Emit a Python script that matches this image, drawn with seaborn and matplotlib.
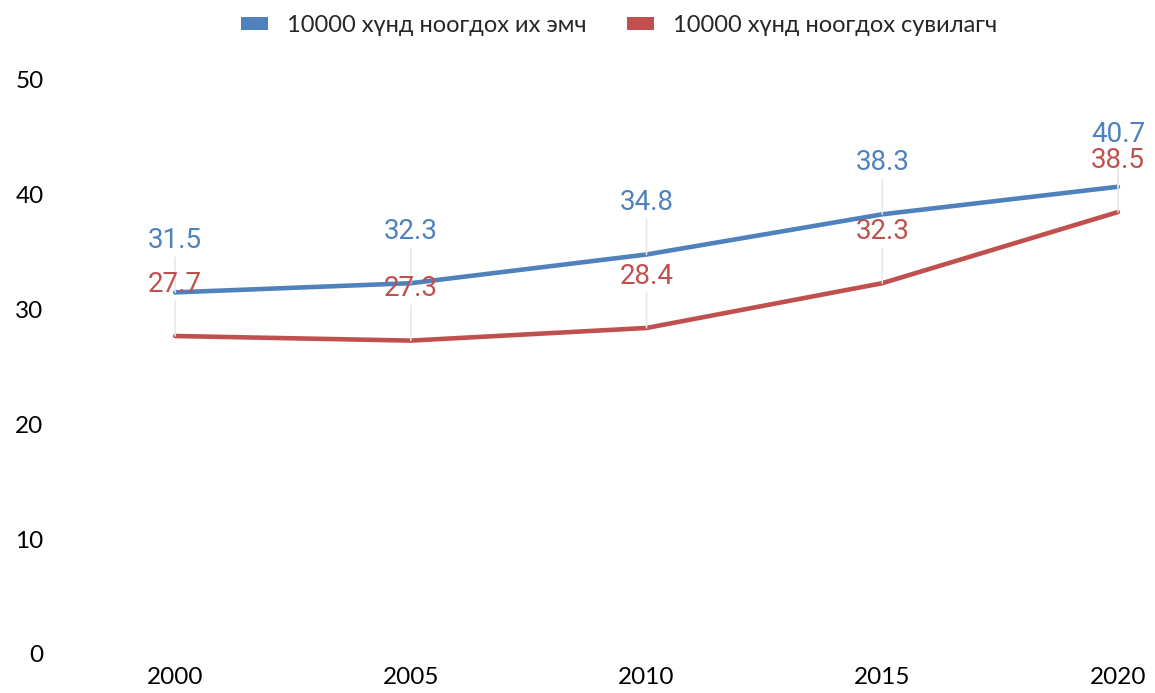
import pandas as pd
import seaborn as sns
import matplotlib.pyplot as plt
from matplotlib.patches import Patch

years = [2000, 2005, 2010, 2015, 2020]
doctors = [31.5, 32.3, 34.8, 38.3, 40.7]
nurses = [27.7, 27.3, 28.4, 32.3, 38.5]
series_names = ['10000 хүнд ноогдох их эмч', '10000 хүнд ноогдох сувилагч']
colors = ['#4F81BD', '#C0504D']

df = pd.DataFrame({
    'year': years * 2,
    'value': doctors + nurses,
    'series': [series_names[0]] * len(years) + [series_names[1]] * len(years),
})

sns.set_theme(style='white')
plt.rcParams['font.family'] = ['Lato', 'DejaVu Sans']

fig = plt.figure(figsize=(11.55, 6.93), dpi=100)
ax = fig.add_axes([70 / 1155, 39 / 693, 1080 / 1155, 574 / 693])

sns.lineplot(data=df, x='year', y='value', hue='series', palette=colors,
             linewidth=3.3, legend=False, ax=ax, zorder=3)

# value labels with thin leader lines
for vals, col in zip([doctors, nurses], colors):
    for x, y in zip(years, vals):
        ax.annotate(f'{y:.1f}', xy=(x, y), xytext=(0, 32), textcoords='offset points',
                    ha='center', va='baseline', color=col, fontsize=20,
                    family=['Roboto', 'DejaVu Sans'], zorder=4,
                    arrowprops=dict(arrowstyle='-', color='#e6e6e6', lw=1.1,
                                    shrinkA=0, shrinkB=0, relpos=(0.5, 0)))

ax.set_xlim(1997.77, 2020.68)
ax.set_ylim(0, 50)
ax.set_xticks(years)
ax.set_yticks(range(0, 51, 10))
ax.set_xlabel('')
ax.set_ylabel('')
ax.tick_params(axis='y', length=0, pad=19, labelsize=17.5, colors='#000000')
ax.tick_params(axis='x', length=0, pad=9, labelsize=17.5, colors='#000000')
sns.despine(ax=ax, left=True, bottom=True)
ax.grid(False)

handles = [Patch(facecolor=c, edgecolor='none') for c in colors]
fig.legend(handles, series_names, loc='center', bbox_to_anchor=(0.536, 0.963),
           ncol=2, frameon=False, fontsize=17, handlelength=1.15, handleheight=0.5,
           columnspacing=1.7, handletextpad=0.8)

fig.savefig('out.png', dpi=100)
